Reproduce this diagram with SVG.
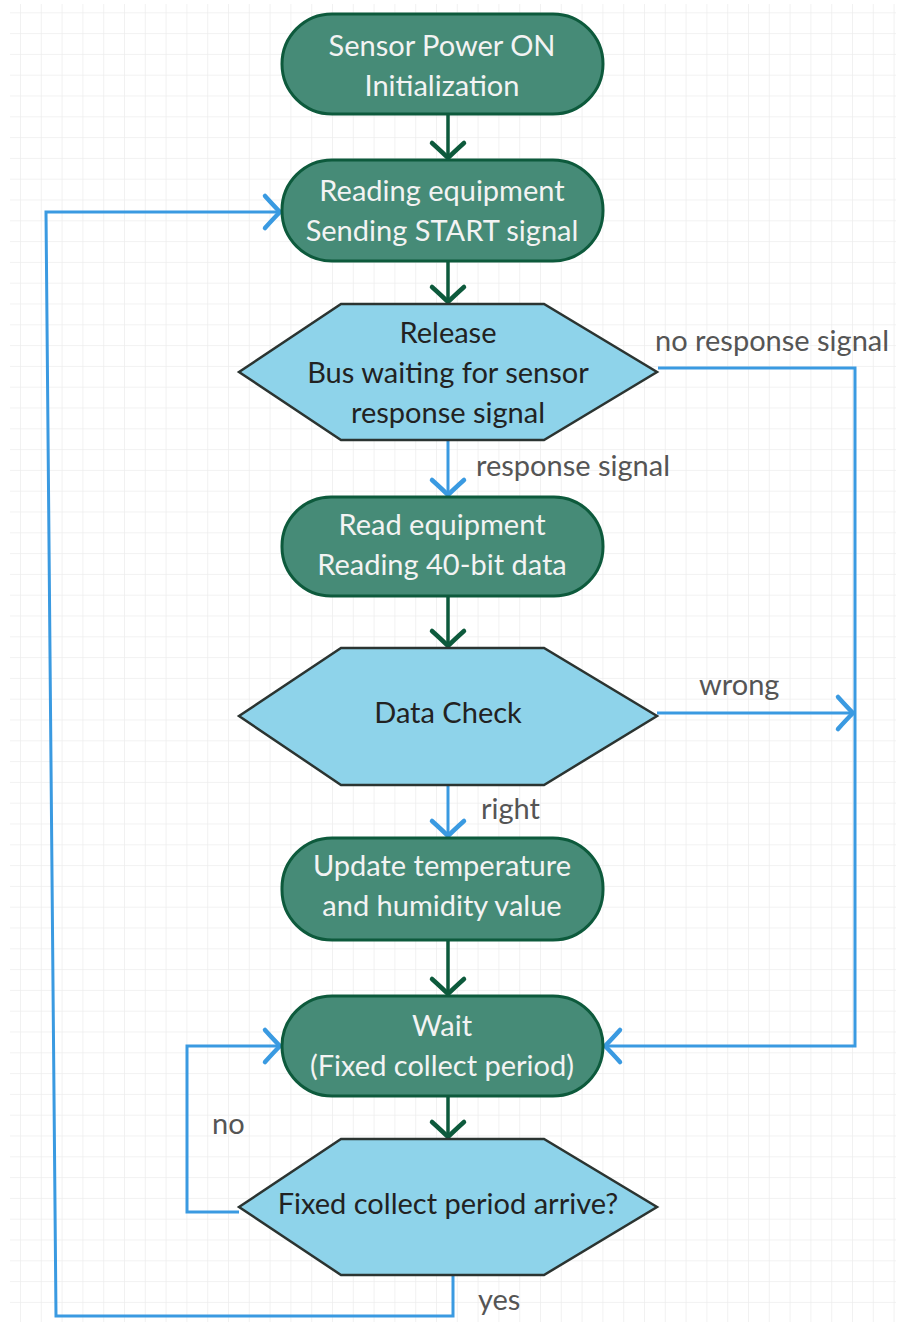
<svg xmlns="http://www.w3.org/2000/svg" width="904" height="1325" viewBox="0 0 904 1325">
<defs>
<pattern id="grid" patternUnits="userSpaceOnUse" x="20" y="12.3" width="20.8" height="20.8">
<path d="M0,0 V20.8 M0,0 H20.8" fill="none" stroke="#eeeeee" stroke-width="1.6"/>
</pattern>
<marker id="ag" markerUnits="userSpaceOnUse" viewBox="-20 -20 24 40" refX="0" refY="0" markerWidth="24" markerHeight="40" orient="auto" overflow="visible">
<path d="M-15,-16 Q-6,-6 0,0 Q-6,6 -15,16" fill="none" stroke="#0d5a3c" stroke-width="4.5" stroke-linecap="round" stroke-linejoin="round"/>
</marker>
<marker id="ab" markerUnits="userSpaceOnUse" viewBox="-20 -20 24 40" refX="0" refY="0" markerWidth="24" markerHeight="40" orient="auto" overflow="visible">
<path d="M-15,-16 Q-6,-6 0,0 Q-6,6 -15,16" fill="none" stroke="#3a9ae1" stroke-width="4.5" stroke-linecap="round" stroke-linejoin="round"/>
</marker>
</defs>
<style>
.proc{fill:#468b77;stroke:#0d5a3c;stroke-width:3}
.dec{fill:#8ed3ea;stroke:#2b3431;stroke-width:2.5;stroke-linejoin:miter}
.pt{font-family:Lato,"Liberation Sans",sans-serif;font-size:29px;fill:#f3f3f3;text-anchor:middle}
.dt{font-family:Lato,"Liberation Sans",sans-serif;font-size:29px;fill:#222;text-anchor:middle}
.lb{font-family:Lato,"Liberation Sans",sans-serif;font-size:29px;fill:#555}
.g{fill:none;stroke:#0d5a3c;stroke-width:3.5;marker-end:url(#ag)}
.b{fill:none;stroke:#3a9ae1;stroke-width:3;marker-end:url(#ab)}
</style>
<rect x="0" y="0" width="904" height="1325" fill="#ffffff"/>
<rect x="10" y="4" width="886" height="1318" fill="url(#grid)"/>

<g id="connectors">
<path class="g" d="M448,114 V158"/>
<path class="g" d="M448,261 V302"/>
<path class="b" d="M448,440 V495"/>
<path class="g" d="M448,596 V646"/>
<path class="b" d="M448,785 V836"/>
<path class="g" d="M448,940 V994"/>
<path class="g" d="M448,1096 V1137"/>
<path class="b" d="M658,368 H855 V1046 H605"/>
<path class="b" d="M657,713 H853"/>
<path class="b" d="M239,1212 H187 V1046 H280"/>
<path class="b" d="M453,1275 V1316 H56 L46,212 H280"/>
</g>

<g id="n1">
<rect class="proc" x="282" y="14" width="321" height="100" rx="50"/>
<text class="pt" x="442" y="56">Sensor Power ON</text>
<text class="pt" x="442" y="96">Initialization</text>
</g>
<g id="n2">
<rect class="proc" x="282" y="160" width="321" height="101" rx="50"/>
<text class="pt" x="442" y="201">Reading equipment</text>
<text class="pt" x="442" y="241">Sending START signal</text>
</g>
<g id="d1">
<polygon class="dec" points="239,372 341,304 544,304 657,372 544,440 341,440"/>
<text class="dt" x="448" y="343">Release</text>
<text class="dt" x="448" y="383">Bus waiting for sensor</text>
<text class="dt" x="448" y="423">response signal</text>
</g>
<g id="n3">
<rect class="proc" x="282" y="497" width="321" height="99" rx="49"/>
<text class="pt" x="442" y="535">Read equipment</text>
<text class="pt" x="442" y="575">Reading 40-bit data</text>
</g>
<g id="d2">
<polygon class="dec" points="239,716 341,648 544,648 657,716 544,785 341,785"/>
<text class="dt" x="448" y="723">Data Check</text>
</g>
<g id="n4">
<rect class="proc" x="282" y="838" width="321" height="102" rx="50"/>
<text class="pt" x="442" y="876">Update temperature</text>
<text class="pt" x="442" y="916">and humidity value</text>
</g>
<g id="n5">
<rect class="proc" x="282" y="996" width="321" height="100" rx="50"/>
<text class="pt" x="442" y="1036">Wait</text>
<text class="pt" x="442" y="1076">(Fixed collect period)</text>
</g>
<g id="d3">
<polygon class="dec" points="239,1207 341,1139 544,1139 657,1207 544,1275 341,1275"/>
<text class="dt" x="448" y="1214">Fixed collect period arrive?</text>
</g>

<g id="labels">
<text class="lb" x="655" y="351">no response signal</text>
<text class="lb" x="476" y="476">response signal</text>
<text class="lb" x="699" y="695">wrong</text>
<text class="lb" x="481" y="819">right</text>
<text class="lb" x="212" y="1134">no</text>
<text class="lb" x="478" y="1310">yes</text>
</g>
</svg>
